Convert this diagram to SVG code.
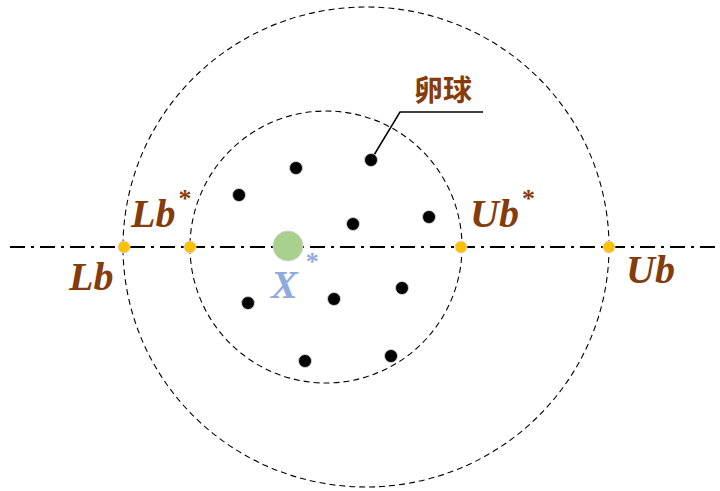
<svg xmlns="http://www.w3.org/2000/svg" width="720" height="491" viewBox="0 0 720 491">
<style>
.ring{fill:none;stroke:#000;stroke-width:1.1;stroke-dasharray:6 4}
.axis{fill:none;stroke:#000;stroke-width:2;stroke-dasharray:15 6 3 6}
.bound{fill:#FFC000;stroke:#d9d9d9;stroke-width:1}
.egg{fill:#000;stroke:#d9d9d9;stroke-width:0.8}
.lbl{font-family:"Liberation Serif",serif;font-weight:bold;font-style:italic;font-size:40px;fill:#843C0C}
.star{font-size:26px;font-style:normal}
.cjk{font-family:"Noto Sans CJK SC","Noto Sans CJK JP",sans-serif;font-weight:bold;font-size:29px;fill:#843C0C}
</style>
<rect width="720" height="491" fill="#fff"/>
<g id="rings">
<ellipse class="ring" cx="366" cy="247" rx="243" ry="240"/>
<circle class="ring" cx="326" cy="247" r="136"/>
</g>
<g id="connectors">
<line class="axis" x1="10" y1="247" x2="720" y2="247"/>
<polyline points="371,160 400,112 483,112" fill="none" stroke="#000" stroke-width="1.5"/>
</g>
<g id="eggs">
<circle class="egg" cx="296" cy="168" r="6.5"/>
<circle class="egg" cx="371" cy="160" r="6.5"/>
<circle class="egg" cx="239" cy="195" r="6.5"/>
<circle class="egg" cx="353" cy="224" r="6.5"/>
<circle class="egg" cx="429" cy="217" r="6.5"/>
<circle class="egg" cx="248" cy="303" r="6.5"/>
<circle class="egg" cx="334" cy="299" r="6.5"/>
<circle class="egg" cx="402" cy="288" r="6.5"/>
<circle class="egg" cx="305" cy="361" r="6.5"/>
<circle class="egg" cx="391" cy="356" r="6.5"/>
</g>
<g id="xstar">
<circle cx="288" cy="246" r="15" fill="#A9D18E" stroke="#d0d0d0" stroke-width="1"/>
<text class="lbl" x="271" y="298" style="fill:#8FAADC">X<tspan class="star" dx="8" dy="-28">*</tspan></text>
</g>
<g id="Lb">
<circle class="bound" cx="124" cy="247" r="6"/>
<text class="lbl" x="69" y="290">Lb</text>
</g>
<g id="LbStar">
<circle class="bound" cx="190" cy="247" r="6"/>
<text class="lbl" x="131" y="227">Lb<tspan class="star" dx="3" dy="-20">*</tspan></text>
</g>
<g id="UbStar">
<circle class="bound" cx="461" cy="247" r="6"/>
<text class="lbl" x="470" y="227">Ub<tspan class="star" dx="3" dy="-20">*</tspan></text>
</g>
<g id="Ub">
<circle class="bound" cx="609" cy="247" r="6"/>
<text class="lbl" x="626" y="283">Ub</text>
</g>
<g id="label-egg">
<text class="cjk" x="414" y="101">卵球</text>
</g>
</svg>
